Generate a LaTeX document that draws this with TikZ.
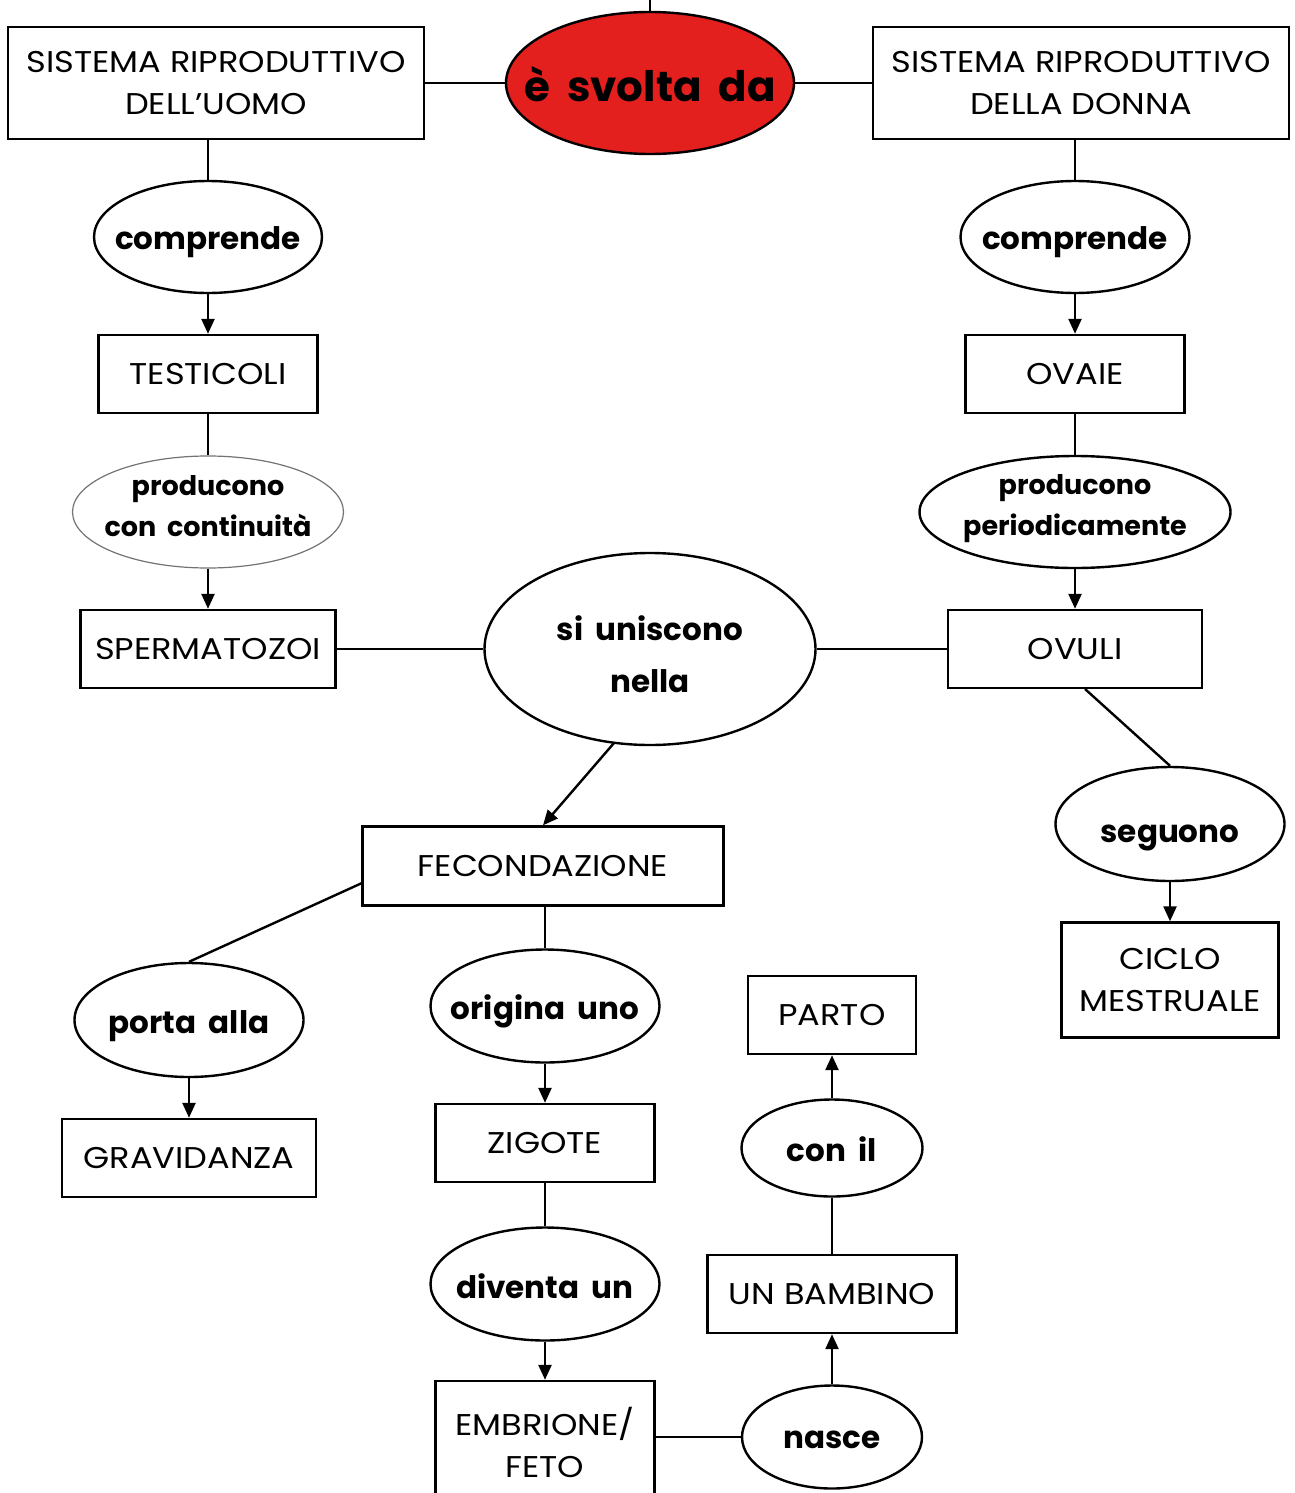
\documentclass[tikz,border=0pt]{standalone}
\usepackage{fontspec}
\setmainfont{Poppins}[FakeStretch=1.12]
\newfontfamily\ovfont{Poppins}[WordSpace=1.9]
\usetikzlibrary{shapes.geometric,arrows.meta}
\definecolor{redfill}{HTML}{E3201E}
\tikzset{
  box/.style={draw=black,line width=2.4pt,rectangle,inner sep=0pt,align=center,font=\fontsize{30}{42}\selectfont},
  oval/.style={draw=black,line width=2.4pt,ellipse,inner sep=0pt},
  ovtxt/.style={font=\ovfont\bfseries\fontsize{31}{42}\selectfont,align=center,yshift=-5pt},
  link/.style={line width=2.4pt},
  arr/.style={line width=2.4pt,-{Triangle[length=15pt,width=13pt]}}
}
\begin{document}
\begin{tikzpicture}[x=1pt,y=-1pt]
\useasboundingbox (0,0) rectangle (1295,1493);
\clip (0,0) rectangle (1295,1493);
% top
\node[oval,fill=redfill,minimum width=288pt,minimum height=142pt,label={[font=\ovfont\bfseries\fontsize{42}{50}\selectfont,yshift=-1pt]center:è svolta da}] (svolta) at (650,83) {};
\coordinate (topend) at (650,0);
\draw[link] (svolta.north) -- (topend);
\node[box,minimum width=416pt,minimum height=112pt] (uomo) at (216,83) {SISTEMA RIPRODUTTIVO\\DELL’UOMO};
\node[box,minimum width=416pt,minimum height=112pt] (donna) at (1081,83) {SISTEMA RIPRODUTTIVO\\DELLA DONNA};
\draw[link] (uomo.east) -- (svolta.west);
\draw[link] (svolta.east) -- (donna.west);
% man side
\node[oval,minimum width=228pt,minimum height=112pt,label={[ovtxt]center:comprende}] (compM) at (208,237) {};
\node[box,minimum width=219pt,minimum height=78pt] (test) at (208,374) {TESTICOLI};
\node[oval,draw=black!55,line width=1.2pt,minimum width=271pt,minimum height=112pt,label={[ovtxt,font=\ovfont\bfseries\fontsize{27}{41}\selectfont,yshift=11pt]center:producono\\con continuità}] (prodM) at (208,512) {};
\node[box,minimum width=255pt,minimum height=78pt] (sperm) at (208,649) {SPERMATOZOI};
\draw[link] (uomo.south -| compM.north) -- (compM.north);
\draw[arr] (compM.south) -- (test.north);
\draw[link] (test.south) -- (prodM.north);
\draw[arr] (prodM.south) -- (sperm.north);
% woman side
\node[oval,minimum width=229pt,minimum height=112pt,label={[ovtxt]center:comprende}] (compF) at (1075,237) {};
\node[box,minimum width=219pt,minimum height=78pt] (ovaie) at (1075,374) {OVAIE};
\node[oval,minimum width=311pt,minimum height=112pt,label={[ovtxt,font=\ovfont\bfseries\fontsize{27}{41}\selectfont,yshift=8pt]center:producono\\periodicamente}] (prodF) at (1075,512) {};
\node[box,minimum width=254pt,minimum height=78pt] (ovuli) at (1075,649) {OVULI};
\draw[link] (donna.south -| compF.north) -- (compF.north);
\draw[arr] (compF.south) -- (ovaie.north);
\draw[link] (ovaie.south) -- (prodF.north);
\draw[arr] (prodF.south) -- (ovuli.north);
% center
\node[oval,minimum width=331pt,minimum height=192pt,label={[ovtxt,font=\ovfont\bfseries\fontsize{31}{52}\selectfont]center:si uniscono\\nella}] (unisc) at (650,649) {};
\draw[link] (sperm.east) -- (unisc.west);
\draw[link] (unisc.east) -- (ovuli.west);
% seguono
\node[oval,minimum width=229pt,minimum height=114pt,label={[ovtxt,yshift=-9pt]center:seguono}] (seg) at (1170,824) {};
\node[box,minimum width=217pt,minimum height=115pt] (ciclo) at (1170,980) {CICLO\\MESTRUALE};
\coordinate (ovb) at (1085,689);
\draw[link] (ovb) -- (seg.north);
\draw[arr] (seg.south) -- (ciclo.north);
% fecondazione
\node[box,minimum width=361pt,minimum height=79pt] (fec) at (543,866) {FECONDAZIONE};
\coordinate (unb) at (614,743);
\draw[arr] (unb) -- (fec.north);
\node[oval,minimum width=229pt,minimum height=114pt,label={[ovtxt,yshift=-1pt]center:porta alla}] (porta) at (189,1020) {};
\node[box,minimum width=254pt,minimum height=78pt] (grav) at (189,1158) {GRAVIDANZA};
\coordinate (fecl) at (362,883);
\draw[link] (fecl) -- (porta.north);
\draw[arr] (porta.south) -- (grav.north);
\node[oval,minimum width=229pt,minimum height=113pt,label={[ovtxt]center:origina uno}] (orig) at (545,1006) {};
\node[box,minimum width=219pt,minimum height=78pt] (zig) at (545,1143) {ZIGOTE};
\node[oval,minimum width=229pt,minimum height=113pt,label={[ovtxt,yshift=3pt]center:diventa un}] (div) at (545,1284) {};
\node[box,minimum width=219pt,minimum height=130pt,label={[font=\fontsize{30}{42}\selectfont,align=center,yshift=4pt]center:EMBRIONE/\\FETO}] (emb) at (545,1446) {};
\draw[link] (fec.south -| orig.north) -- (orig.north);
\draw[arr] (orig.south) -- (zig.north);
\draw[link] (zig.south) -- (div.north);
\draw[arr] (div.south) -- (emb.north);
% nasce chain
\node[oval,minimum width=180pt,minimum height=103pt,label={[ovtxt,yshift=2pt]center:nasce}] (nasce) at (832,1437) {};
\node[box,minimum width=249pt,minimum height=78pt] (bamb) at (832,1294) {UN BAMBINO};
\node[oval,minimum width=181pt,minimum height=97pt,label={[ovtxt,yshift=4pt]center:con il}] (conil) at (832,1148) {};
\node[box,minimum width=168pt,minimum height=78pt] (parto) at (832,1015) {PARTO};
\draw[link] (emb.east |- nasce.west) -- (nasce.west);
\draw[arr] (nasce.north) -- (bamb.south);
\draw[link] (bamb.north) -- (conil.south);
\draw[arr] (conil.north) -- (parto.south);
\end{tikzpicture}
\end{document}
